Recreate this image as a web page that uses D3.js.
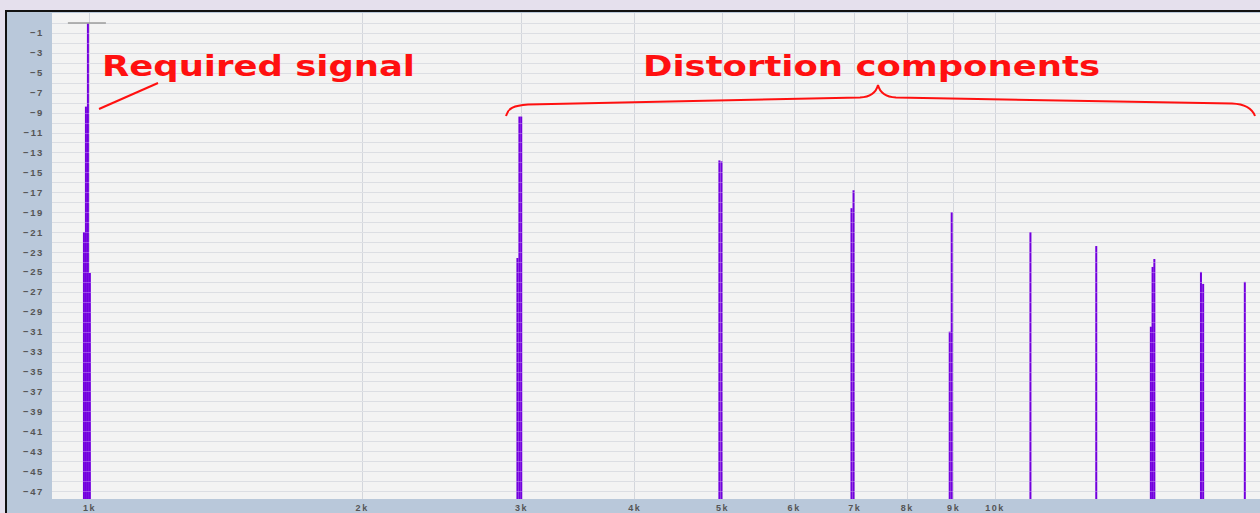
<!DOCTYPE html>
<html>
<head>
<meta charset="utf-8">
<script src="https://cdn.jsdelivr.net/npm/d3@7"></script>
<style>
  html, body { margin: 0; padding: 0; background: #e5e0ed; overflow: hidden; }
  svg { display: block; }
</style>
</head>
<body>
<svg id="chart" width="1260" height="513"></svg>
<script>
// Spectrum bins: frequency (Hz) and level (dB)
const binFreq  = [987, 992, 997, 1002, 2972, 2987, 3001, 4967, 4993, 6950, 6986,
                  8922, 8967, 10955, 12951, 14880, 14945, 15013, 16902, 16997, 18896];
const binLevel = [-21.0, -8.4, 0.0, -25.1, -23.6, -9.4, -9.4, -13.8, -13.9, -18.6, -16.8,
                  -31.0, -19.0, -21.0, -22.4, -30.5, -24.5, -23.7, -25.0, -26.2, -26.0];

// Axis ticks
const xTickValues = [1000, 2000, 3000, 4000, 5000, 6000, 7000, 8000, 9000, 10000];
const xTickLabels = ["1k", "2k", "3k", "4k", "5k", "6k", "7k", "8k", "9k", "10k"];
const yTickValues = [-1, -3, -5, -7, -9, -11, -13, -15, -17, -19, -21, -23, -25, -27,
                     -29, -31, -33, -35, -37, -39, -41, -43, -45, -47];

// Annotation texts
const signalLabel = "Required signal";
const distortionLabel = "Distortion components";

const W = 1260, H = 513;
const frame = { left: 5, top: 10 };
const plot = { left: 52, top: 13, right: 1260, bottom: 499 };

const svg = d3.select("#chart");

const xs = d3.scaleLog().domain([910, 19640]).range([plot.left, plot.right]);
const ys = d3.scaleLinear().domain([1, -47.8]).range([plot.top, plot.bottom]);

// Outer background and frame
svg.append("rect").attr("width", W).attr("height", H).attr("fill", "#e5e0ed");
svg.append("rect").attr("x", frame.left).attr("y", frame.top)
  .attr("width", W - frame.left).attr("height", H - frame.top).attr("fill", "#111");
svg.append("rect").attr("x", frame.left + 2).attr("y", frame.top + 2)
  .attr("width", W - frame.left - 2).attr("height", H - frame.top - 2).attr("fill", "#b9c8da");

// Plot area
svg.append("rect").attr("x", plot.left).attr("y", plot.top)
  .attr("width", plot.right - plot.left).attr("height", plot.bottom - plot.top)
  .attr("fill", "#f3f3f3");

const gridDb = d3.range(0, -48, -1);

// Horizontal grid (every dB)
svg.append("g").selectAll("line").data(gridDb).join("line")
  .attr("x1", plot.left).attr("x2", plot.right)
  .attr("y1", d => Math.round(ys(d)) + 0.5).attr("y2", d => Math.round(ys(d)) + 0.5)
  .attr("stroke", "#cfd2d9").attr("stroke-width", 1);

// Vertical grid at labelled frequencies
svg.append("g").selectAll("line").data(xTickValues).join("line")
  .attr("x1", d => Math.round(xs(d)) + 0.5).attr("x2", d => Math.round(xs(d)) + 0.5)
  .attr("y1", plot.top).attr("y2", plot.bottom)
  .attr("stroke", "#d3d6dc").attr("stroke-width", 1);

// Spectrum bars
const bins = binFreq.map((f, i) => ({ f, db: binLevel[i] }));
svg.append("g").selectAll("rect").data(bins).join("rect")
  .attr("x", d => xs(d.f) - 1)
  .attr("width", 2)
  .attr("y", d => ys(d.db))
  .attr("height", d => plot.bottom - ys(d.db))
  .attr("fill", "#7300de");

// Grid showing faintly through the bars
svg.append("g").selectAll("line").data(gridDb).join("line")
  .attr("x1", plot.left).attr("x2", plot.right)
  .attr("y1", d => Math.round(ys(d)) + 0.5).attr("y2", d => Math.round(ys(d)) + 0.5)
  .attr("stroke", "#ffffff").attr("stroke-opacity", 0.28).attr("stroke-width", 1);

// Peak-hold marker over the strongest bin
const peak = bins.reduce((a, b) => (b.db > a.db ? b : a));
svg.append("line")
  .attr("x1", xs(peak.f) - 20).attr("x2", xs(peak.f) + 18)
  .attr("y1", ys(peak.db)).attr("y2", ys(peak.db))
  .attr("stroke", "#9c9c9c").attr("stroke-width", 1.5);

// Axes
const yAxis = svg.append("g").attr("transform", `translate(${plot.left},0)`)
  .call(d3.axisLeft(ys).tickValues(yTickValues).tickSize(0).tickPadding(8));
yAxis.select(".domain").remove();
yAxis.selectAll("text")
  .attr("font-family", "'Liberation Sans', Arial, sans-serif")
  .attr("font-size", 9.5).attr("font-weight", "bold")
  .attr("letter-spacing", "1.6px")
  .attr("fill", "#555");

const xAxis = svg.append("g").attr("transform", `translate(0,${plot.bottom})`)
  .call(d3.axisBottom(xs).tickValues(xTickValues)
    .tickFormat((d, i) => xTickLabels[i]).tickSize(0).tickPadding(5.5));
xAxis.select(".domain").remove();
xAxis.selectAll("text")
  .attr("font-family", "'Liberation Sans', Arial, sans-serif")
  .attr("font-size", 9).attr("font-weight", "bold")
  .attr("letter-spacing", "1.6px")
  .attr("fill", "#555");

// Annotations
const red = "#ff1010";
const ann = svg.append("g");
ann.append("text").text(signalLabel)
  .attr("x", 102).attr("y", 76)
  .attr("textLength", 313).attr("lengthAdjust", "spacingAndGlyphs")
  .attr("font-family", "'DejaVu Sans', sans-serif").attr("font-weight", "bold")
  .attr("font-size", 28).attr("fill", red);
ann.append("line")
  .attr("x1", 99).attr("y1", 109).attr("x2", 158).attr("y2", 83)
  .attr("stroke", red).attr("stroke-width", 2);

ann.append("text").text(distortionLabel)
  .attr("x", 643).attr("y", 76)
  .attr("textLength", 457).attr("lengthAdjust", "spacingAndGlyphs")
  .attr("font-family", "'DejaVu Sans', sans-serif").attr("font-weight", "bold")
  .attr("font-size", 28).attr("fill", red);

// Curly brace spanning the harmonics
ann.append("path")
  .attr("d", "M506,116 C508,108 514,105.5 528,104.5 L860,97.5 C870,97 876,93 878,85 " +
             "C880,93 886,97 896,97.5 L1232,103.5 C1244,104 1252,108 1255,116")
  .attr("fill", "none").attr("stroke", red).attr("stroke-width", 2);
</script>
</body>
</html>
